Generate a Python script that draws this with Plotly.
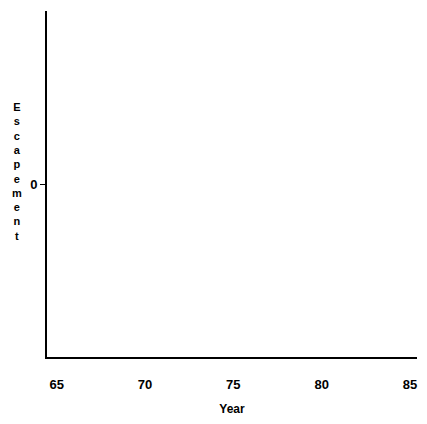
import plotly.graph_objects as go

# Data (the reference plot shows no data marks)
years = []
escapement = []
x_tick_vals = [65, 70, 75, 80, 85]
x_tick_text = ["65", "70", "75", "80", "85"]
y_tick_vals = [0]
y_tick_text = ["0"]
y_title = "Escapement"

fig = go.Figure()
fig.add_trace(go.Scatter(x=years, y=escapement, mode="lines",
                         line=dict(color="black", width=2), showlegend=False))

tick_font = dict(family="Liberation Sans", size=13, color="black")
title_font = dict(family="Liberation Sans", size=12, color="black")

fig.update_layout(
    width=411, height=408,
    margin=dict(l=39, r=2, t=3, b=59),
    paper_bgcolor="white", plot_bgcolor="white",
    font=tick_font,
    showlegend=False,
    xaxis=dict(range=[64.45, 85.4], tickvals=x_tick_vals, ticktext=[f"<b>{t}</b>" for t in x_tick_text],
               showgrid=False, zeroline=False, showline=True, linecolor="black", linewidth=2,
               ticks="", ticklen=0, tickfont=tick_font, ticklabelstandoff=14,
               title=dict(text="<b>Year</b>", font=title_font, standoff=14)),
    yaxis=dict(range=[-1, 1], tickvals=y_tick_vals, ticktext=[f"<b>{t}</b>" for t in y_tick_text],
               showgrid=False, zeroline=False, showline=True, linecolor="black", linewidth=2,
               ticks="outside", ticklen=5, tickwidth=1, tickcolor="black", tickfont=tick_font),
)

fig.add_annotation(
    text="<br>".join(f"<b>{c}</b>" for c in y_title),
    xref="paper", yref="paper", x=-0.081, y=0.535, xanchor="center", yanchor="middle",
    showarrow=False, font=dict(family="Liberation Sans", size=11, color="black"),
    align="center",
)

fig.write_html("out.html")
